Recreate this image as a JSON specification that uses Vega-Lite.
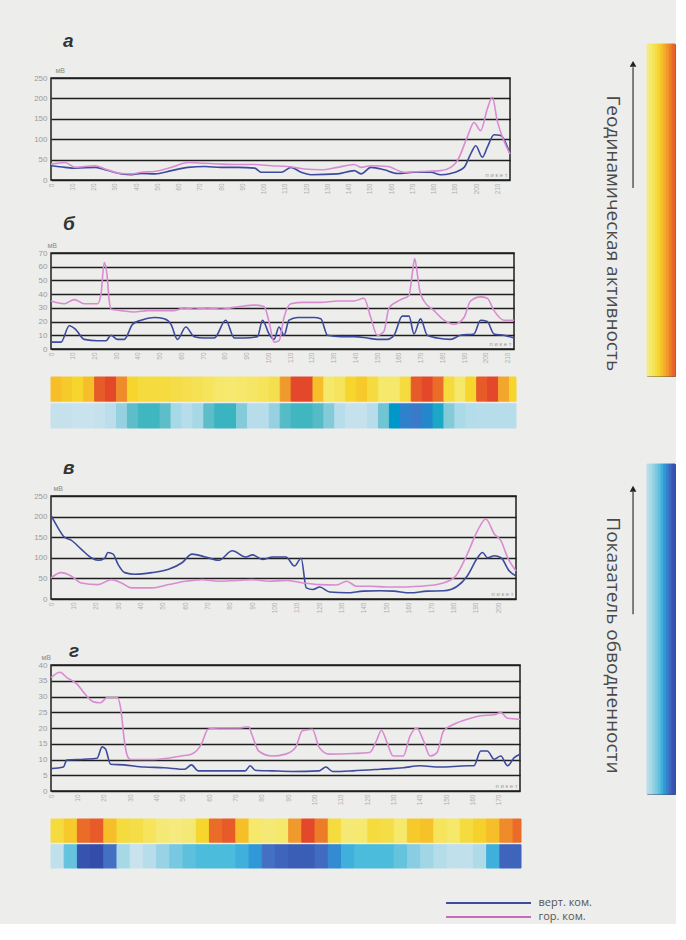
{
"$schema": "https://vega.github.io/schema/vega-lite/v6.json",
"background": "#ededeb",
"padding": {"left": 32, "top": 31, "right": 0, "bottom": 0},
"datasets": {
"a": [
{"pk":0,"mv":35,"s":"верт. ком."},{"pk":6.6,"mv":31,"s":"верт. ком."},{"pk":11.3,"mv":29,"s":"верт. ком."},{"pk":20.7,"mv":31,"s":"верт. ком."},{"pk":25.4,"mv":25,"s":"верт. ком."},{"pk":33.2,"mv":15,"s":"верт. ком."},{"pk":37.9,"mv":13,"s":"верт. ком."},{"pk":42.6,"mv":16,"s":"верт. ком."},{"pk":48.8,"mv":15,"s":"верт. ком."},{"pk":56.7,"mv":23,"s":"верт. ком."},{"pk":64.5,"mv":31,"s":"верт. ком."},{"pk":72.3,"mv":33,"s":"верт. ком."},{"pk":80.1,"mv":31,"s":"верт. ком."},{"pk":88,"mv":31,"s":"верт. ком."},{"pk":95.8,"mv":29,"s":"верт. ком."},{"pk":98.9,"mv":19,"s":"верт. ком."},{"pk":108.3,"mv":19,"s":"верт. ком."},{"pk":113,"mv":31,"s":"верт. ком."},{"pk":117.7,"mv":19,"s":"верт. ком."},{"pk":122.4,"mv":13,"s":"верт. ком."},{"pk":134.9,"mv":15,"s":"верт. ком."},{"pk":142.7,"mv":23,"s":"верт. ком."},{"pk":145.9,"mv":15,"s":"верт. ком."},{"pk":150.6,"mv":31,"s":"верт. ком."},{"pk":156.8,"mv":25,"s":"верт. ком."},{"pk":163.1,"mv":16,"s":"верт. ком."},{"pk":170.9,"mv":19,"s":"верт. ком."},{"pk":178.7,"mv":19,"s":"верт. ком."},{"pk":183.4,"mv":13,"s":"верт. ком."},{"pk":188.1,"mv":16,"s":"верт. ком."},{"pk":194.4,"mv":31,"s":"верт. ком."},{"pk":197.5,"mv":64,"s":"верт. ком."},{"pk":199.9,"mv":84,"s":"верт. ком."},{"pk":203,"mv":56,"s":"верт. ком."},{"pk":205.3,"mv":80,"s":"верт. ком."},{"pk":208.5,"mv":111,"s":"верт. ком."},{"pk":211.6,"mv":109,"s":"верт. ком."},{"pk":216,"mv":64,"s":"верт. ком."},
{"pk":0,"mv":39,"s":"гор. ком."},{"pk":6.6,"mv":43,"s":"гор. ком."},{"pk":11.3,"mv":31,"s":"гор. ком."},{"pk":20.7,"mv":35,"s":"гор. ком."},{"pk":25.4,"mv":27,"s":"гор. ком."},{"pk":33.2,"mv":16,"s":"гор. ком."},{"pk":37.9,"mv":15,"s":"гор. ком."},{"pk":42.6,"mv":19,"s":"гор. ком."},{"pk":48.8,"mv":21,"s":"гор. ком."},{"pk":56.7,"mv":31,"s":"гор. ком."},{"pk":64.5,"mv":43,"s":"гор. ком."},{"pk":72.3,"mv":41,"s":"гор. ком."},{"pk":80.1,"mv":39,"s":"гор. ком."},{"pk":88,"mv":38,"s":"гор. ком."},{"pk":95.8,"mv":38,"s":"гор. ком."},{"pk":103.6,"mv":35,"s":"гор. ком."},{"pk":111.5,"mv":33,"s":"гор. ком."},{"pk":119.3,"mv":27,"s":"гор. ком."},{"pk":127.1,"mv":25,"s":"гор. ком."},{"pk":134.9,"mv":31,"s":"гор. ком."},{"pk":142.7,"mv":38,"s":"гор. ком."},{"pk":145.9,"mv":31,"s":"гор. ком."},{"pk":150.6,"mv":35,"s":"гор. ком."},{"pk":158.4,"mv":33,"s":"гор. ком."},{"pk":166.2,"mv":19,"s":"гор. ком."},{"pk":174,"mv":21,"s":"гор. ком."},{"pk":183.4,"mv":23,"s":"гор. ком."},{"pk":188.1,"mv":31,"s":"гор. ком."},{"pk":191.2,"mv":47,"s":"гор. ком."},{"pk":195.9,"mv":105,"s":"гор. ком."},{"pk":199.1,"mv":141,"s":"гор. ком."},{"pk":202.2,"mv":121,"s":"гор. ком."},{"pk":205.3,"mv":174,"s":"гор. ком."},{"pk":207.7,"mv":203,"s":"гор. ком."},{"pk":210,"mv":145,"s":"гор. ком."},{"pk":213.1,"mv":96,"s":"гор. ком."},{"pk":216,"mv":64,"s":"гор. ком."}
],
"b": [
{"pk":0,"mv":5,"s":"верт. ком."},{"pk":4.6,"mv":5,"s":"верт. ком."},{"pk":8.4,"mv":17,"s":"верт. ком."},{"pk":11.5,"mv":14,"s":"верт. ком."},{"pk":15.3,"mv":7,"s":"верт. ком."},{"pk":21.4,"mv":6,"s":"верт. ком."},{"pk":25.3,"mv":6,"s":"верт. ком."},{"pk":27.6,"mv":10,"s":"верт. ком."},{"pk":30.6,"mv":7,"s":"верт. ком."},{"pk":33.7,"mv":7,"s":"верт. ком."},{"pk":37.5,"mv":18,"s":"верт. ком."},{"pk":41.4,"mv":21,"s":"верт. ком."},{"pk":47.5,"mv":23,"s":"верт. ком."},{"pk":52.1,"mv":22,"s":"верт. ком."},{"pk":55.2,"mv":18,"s":"верт. ком."},{"pk":58.2,"mv":7,"s":"верт. ком."},{"pk":62,"mv":16,"s":"верт. ком."},{"pk":65.9,"mv":9,"s":"верт. ком."},{"pk":70.5,"mv":8,"s":"верт. ком."},{"pk":75.1,"mv":8,"s":"верт. ком."},{"pk":80.4,"mv":21,"s":"верт. ком."},{"pk":84.3,"mv":8,"s":"верт. ком."},{"pk":88.9,"mv":8,"s":"верт. ком."},{"pk":95,"mv":9,"s":"верт. ком."},{"pk":97.3,"mv":21,"s":"верт. ком."},{"pk":100.3,"mv":11,"s":"верт. ком."},{"pk":102.6,"mv":7,"s":"верт. ком."},{"pk":104.9,"mv":16,"s":"верт. ком."},{"pk":107.2,"mv":10,"s":"верт. ком."},{"pk":109.5,"mv":21,"s":"верт. ком."},{"pk":113.4,"mv":23,"s":"верт. ком."},{"pk":121,"mv":23,"s":"верт. ком."},{"pk":124.1,"mv":22,"s":"верт. ком."},{"pk":127.2,"mv":10,"s":"верт. ком."},{"pk":133.3,"mv":9,"s":"верт. ком."},{"pk":139.4,"mv":9,"s":"верт. ком."},{"pk":145.5,"mv":8,"s":"верт. ком."},{"pk":150.1,"mv":7,"s":"верт. ком."},{"pk":154.7,"mv":7,"s":"верт. ком."},{"pk":157.8,"mv":10,"s":"верт. ком."},{"pk":161.6,"mv":24,"s":"верт. ком."},{"pk":164.7,"mv":24,"s":"верт. ком."},{"pk":167,"mv":11,"s":"верт. ком."},{"pk":170,"mv":22,"s":"верт. ком."},{"pk":173.1,"mv":10,"s":"верт. ком."},{"pk":177.7,"mv":8,"s":"верт. ком."},{"pk":183.8,"mv":7,"s":"верт. ком."},{"pk":188.4,"mv":10,"s":"верт. ком."},{"pk":194.6,"mv":11,"s":"верт. ком."},{"pk":197.6,"mv":21,"s":"верт. ком."},{"pk":200.7,"mv":20,"s":"верт. ком."},{"pk":203.8,"mv":11,"s":"верт. ком."},{"pk":208.4,"mv":10,"s":"верт. ком."},{"pk":213,"mv":8,"s":"верт. ком."},
{"pk":0,"mv":35,"s":"гор. ком."},{"pk":6.1,"mv":33,"s":"гор. ком."},{"pk":10.7,"mv":36,"s":"гор. ком."},{"pk":15.3,"mv":33,"s":"гор. ком."},{"pk":21.4,"mv":33,"s":"гор. ком."},{"pk":23,"mv":40,"s":"гор. ком."},{"pk":24.5,"mv":63,"s":"гор. ком."},{"pk":25.7,"mv":55,"s":"гор. ком."},{"pk":26.8,"mv":35,"s":"гор. ком."},{"pk":27.6,"mv":29,"s":"гор. ком."},{"pk":32.2,"mv":28,"s":"гор. ком."},{"pk":38.3,"mv":27,"s":"гор. ком."},{"pk":44.4,"mv":28,"s":"гор. ком."},{"pk":50.6,"mv":28,"s":"гор. ком."},{"pk":56.7,"mv":28,"s":"гор. ком."},{"pk":61.3,"mv":30,"s":"гор. ком."},{"pk":65.9,"mv":29,"s":"гор. ком."},{"pk":72,"mv":30,"s":"гор. ком."},{"pk":78.1,"mv":29,"s":"гор. ком."},{"pk":82.7,"mv":30,"s":"гор. ком."},{"pk":87.3,"mv":31,"s":"гор. ком."},{"pk":93.5,"mv":32,"s":"гор. ком."},{"pk":98,"mv":31,"s":"гор. ком."},{"pk":100.3,"mv":20,"s":"гор. ком."},{"pk":102.6,"mv":5,"s":"гор. ком."},{"pk":104.9,"mv":6,"s":"гор. ком."},{"pk":107.2,"mv":23,"s":"гор. ком."},{"pk":110.3,"mv":33,"s":"гор. ком."},{"pk":116.4,"mv":34,"s":"гор. ком."},{"pk":124.1,"mv":34,"s":"гор. ком."},{"pk":131.8,"mv":35,"s":"гор. ком."},{"pk":139.4,"mv":35,"s":"гор. ком."},{"pk":144,"mv":37,"s":"гор. ком."},{"pk":147.1,"mv":23,"s":"гор. ком."},{"pk":150.1,"mv":10,"s":"гор. ком."},{"pk":153.2,"mv":13,"s":"гор. ком."},{"pk":155.5,"mv":30,"s":"гор. ком."},{"pk":160.9,"mv":36,"s":"гор. ком."},{"pk":164.7,"mv":39,"s":"гор. ком."},{"pk":166.2,"mv":55,"s":"гор. ком."},{"pk":167.3,"mv":66,"s":"гор. ком."},{"pk":168.5,"mv":55,"s":"гор. ком."},{"pk":169.7,"mv":42,"s":"гор. ком."},{"pk":171.6,"mv":35,"s":"гор. ком."},{"pk":176.2,"mv":28,"s":"гор. ком."},{"pk":180.8,"mv":21,"s":"гор. ком."},{"pk":185.4,"mv":18,"s":"гор. ком."},{"pk":190,"mv":23,"s":"гор. ком."},{"pk":193,"mv":35,"s":"гор. ком."},{"pk":197.6,"mv":38,"s":"гор. ком."},{"pk":200.7,"mv":37,"s":"гор. ком."},{"pk":203.8,"mv":28,"s":"гор. ком."},{"pk":208.4,"mv":21,"s":"гор. ком."},{"pk":213,"mv":21,"s":"гор. ком."}
],
"c": [
{"pk":0,"mv":203,"s":"верт. ком."},{"pk":3,"mv":174,"s":"верт. ком."},{"pk":6,"mv":150,"s":"верт. ком."},{"pk":9,"mv":143,"s":"верт. ком."},{"pk":13.5,"mv":121,"s":"верт. ком."},{"pk":18,"mv":100,"s":"верт. ком."},{"pk":21,"mv":94,"s":"верт. ком."},{"pk":24,"mv":99,"s":"верт. ком."},{"pk":25.5,"mv":113,"s":"верт. ком."},{"pk":27.8,"mv":109,"s":"верт. ком."},{"pk":30,"mv":84,"s":"верт. ком."},{"pk":33,"mv":64,"s":"верт. ком."},{"pk":37.6,"mv":60,"s":"верт. ком."},{"pk":45.1,"mv":64,"s":"верт. ком."},{"pk":52.6,"mv":72,"s":"верт. ком."},{"pk":58.6,"mv":88,"s":"верт. ком."},{"pk":63.1,"mv":109,"s":"верт. ком."},{"pk":69.1,"mv":102,"s":"верт. ком."},{"pk":75.1,"mv":94,"s":"верт. ком."},{"pk":81.1,"mv":117,"s":"верт. ком."},{"pk":87.1,"mv":102,"s":"верт. ком."},{"pk":90.1,"mv":107,"s":"верт. ком."},{"pk":94.6,"mv":96,"s":"верт. ком."},{"pk":99.1,"mv":102,"s":"верт. ком."},{"pk":105.1,"mv":102,"s":"верт. ком."},{"pk":108.9,"mv":80,"s":"верт. ком."},{"pk":111.9,"mv":99,"s":"верт. ком."},{"pk":114.2,"mv":27,"s":"верт. ком."},{"pk":117.2,"mv":23,"s":"верт. ком."},{"pk":120.2,"mv":29,"s":"верт. ком."},{"pk":124.7,"mv":17,"s":"верт. ком."},{"pk":132.2,"mv":15,"s":"верт. ком."},{"pk":139.7,"mv":19,"s":"верт. ком."},{"pk":147.2,"mv":20,"s":"верт. ком."},{"pk":153.2,"mv":19,"s":"верт. ком."},{"pk":160.7,"mv":15,"s":"верт. ком."},{"pk":168.2,"mv":19,"s":"верт. ком."},{"pk":175.7,"mv":20,"s":"верт. ком."},{"pk":181.7,"mv":31,"s":"верт. ком."},{"pk":186.2,"mv":56,"s":"верт. ком."},{"pk":190.8,"mv":100,"s":"верт. ком."},{"pk":193,"mv":113,"s":"верт. ком."},{"pk":195.3,"mv":100,"s":"верт. ком."},{"pk":198.3,"mv":105,"s":"верт. ком."},{"pk":201.3,"mv":100,"s":"верт. ком."},{"pk":205,"mv":68,"s":"верт. ком."},{"pk":208,"mv":56,"s":"верт. ком."},
{"pk":0,"mv":51,"s":"гор. ком."},{"pk":4.5,"mv":64,"s":"гор. ком."},{"pk":9,"mv":56,"s":"гор. ком."},{"pk":13.5,"mv":39,"s":"гор. ком."},{"pk":21,"mv":35,"s":"гор. ком."},{"pk":27,"mv":47,"s":"гор. ком."},{"pk":31.5,"mv":39,"s":"гор. ком."},{"pk":36,"mv":27,"s":"гор. ком."},{"pk":45.1,"mv":27,"s":"гор. ком."},{"pk":52.6,"mv":35,"s":"гор. ком."},{"pk":60.1,"mv":43,"s":"гор. ком."},{"pk":67.6,"mv":47,"s":"гор. ком."},{"pk":75.1,"mv":43,"s":"гор. ком."},{"pk":82.6,"mv":45,"s":"гор. ком."},{"pk":90.1,"mv":47,"s":"гор. ком."},{"pk":97.6,"mv":43,"s":"гор. ком."},{"pk":105.1,"mv":45,"s":"гор. ком."},{"pk":112.7,"mv":39,"s":"гор. ком."},{"pk":120.2,"mv":35,"s":"гор. ком."},{"pk":127.7,"mv":34,"s":"гор. ком."},{"pk":132.2,"mv":43,"s":"гор. ком."},{"pk":136.7,"mv":31,"s":"гор. ком."},{"pk":142.7,"mv":31,"s":"гор. ком."},{"pk":150.2,"mv":29,"s":"гор. ком."},{"pk":157.7,"mv":29,"s":"гор. ком."},{"pk":165.2,"mv":31,"s":"гор. ком."},{"pk":172.7,"mv":35,"s":"гор. ком."},{"pk":180.2,"mv":51,"s":"гор. ком."},{"pk":186.2,"mv":109,"s":"гор. ком."},{"pk":190.8,"mv":166,"s":"гор. ком."},{"pk":194.5,"mv":194,"s":"гор. ком."},{"pk":198.3,"mv":158,"s":"гор. ком."},{"pk":201.3,"mv":141,"s":"гор. ком."},{"pk":204.3,"mv":100,"s":"гор. ком."},{"pk":208,"mv":68,"s":"гор. ком."}
],
"d": [
{"pk":0,"mv":7.1,"s":"верт. ком."},{"pk":4.7,"mv":7.6,"s":"верт. ком."},{"pk":6,"mv":9.8,"s":"верт. ком."},{"pk":12.4,"mv":10.1,"s":"верт. ком."},{"pk":17.5,"mv":10.4,"s":"верт. ком."},{"pk":19.4,"mv":14,"s":"верт. ком."},{"pk":20.7,"mv":13.3,"s":"верт. ком."},{"pk":22.6,"mv":8.5,"s":"верт. ком."},{"pk":27.7,"mv":8.3,"s":"верт. ком."},{"pk":35.4,"mv":7.6,"s":"верт. ком."},{"pk":43,"mv":7.4,"s":"верт. ком."},{"pk":50.7,"mv":6.9,"s":"верт. ком."},{"pk":53.3,"mv":8.3,"s":"верт. ком."},{"pk":55.8,"mv":6.4,"s":"верт. ком."},{"pk":63.5,"mv":6.4,"s":"верт. ком."},{"pk":73.7,"mv":6.4,"s":"верт. ком."},{"pk":75.6,"mv":8,"s":"верт. ком."},{"pk":77.5,"mv":6.6,"s":"верт. ком."},{"pk":83.9,"mv":6.4,"s":"верт. ком."},{"pk":91.6,"mv":6.2,"s":"верт. ком."},{"pk":101.8,"mv":6.4,"s":"верт. ком."},{"pk":104.3,"mv":7.6,"s":"верт. ком."},{"pk":106.9,"mv":6.2,"s":"верт. ком."},{"pk":114.5,"mv":6.4,"s":"верт. ком."},{"pk":124.8,"mv":6.9,"s":"верт. ком."},{"pk":133.7,"mv":7.4,"s":"верт. ком."},{"pk":140.1,"mv":8,"s":"верт. ком."},{"pk":147.7,"mv":7.6,"s":"верт. ком."},{"pk":158,"mv":8,"s":"верт. ком."},{"pk":160.5,"mv":8,"s":"верт. ком."},{"pk":163.1,"mv":12.7,"s":"верт. ком."},{"pk":165.6,"mv":12.7,"s":"верт. ком."},{"pk":168.2,"mv":10.1,"s":"верт. ком."},{"pk":170.7,"mv":11.1,"s":"верт. ком."},{"pk":173.3,"mv":8,"s":"верт. ком."},{"pk":175.8,"mv":10.6,"s":"верт. ком."},{"pk":178,"mv":11.7,"s":"верт. ком."},
{"pk":0,"mv":36,"s":"гор. ком."},{"pk":3.4,"mv":37.7,"s":"гор. ком."},{"pk":6,"mv":36,"s":"гор. ком."},{"pk":9.8,"mv":34,"s":"гор. ком."},{"pk":12.4,"mv":31.3,"s":"гор. ком."},{"pk":16.2,"mv":28.3,"s":"гор. ком."},{"pk":18.8,"mv":28,"s":"гор. ком."},{"pk":21.3,"mv":29.7,"s":"гор. ком."},{"pk":25.2,"mv":29.7,"s":"гор. ком."},{"pk":26.4,"mv":26.5,"s":"гор. ком."},{"pk":28,"mv":15,"s":"гор. ком."},{"pk":29,"mv":11.1,"s":"гор. ком."},{"pk":30.3,"mv":10,"s":"гор. ком."},{"pk":37.9,"mv":10,"s":"гор. ком."},{"pk":44.3,"mv":10.4,"s":"гор. ком."},{"pk":49.4,"mv":11.1,"s":"гор. ком."},{"pk":53.3,"mv":11.7,"s":"гор. ком."},{"pk":57.1,"mv":14.9,"s":"гор. ком."},{"pk":59.6,"mv":19.6,"s":"гор. ком."},{"pk":63.5,"mv":20,"s":"гор. ком."},{"pk":71.1,"mv":20,"s":"гор. ком."},{"pk":75,"mv":20.4,"s":"гор. ком."},{"pk":76.2,"mv":18,"s":"гор. ком."},{"pk":78.8,"mv":12.7,"s":"гор. ком."},{"pk":83.9,"mv":11.1,"s":"гор. ком."},{"pk":89,"mv":11.7,"s":"гор. ком."},{"pk":92.8,"mv":13.8,"s":"гор. ком."},{"pk":95.4,"mv":19.1,"s":"гор. ком."},{"pk":99.2,"mv":19.6,"s":"гор. ком."},{"pk":101.8,"mv":13.8,"s":"гор. ком."},{"pk":105.6,"mv":11.7,"s":"гор. ком."},{"pk":114.5,"mv":11.9,"s":"гор. ком."},{"pk":120.9,"mv":12.2,"s":"гор. ком."},{"pk":123.5,"mv":15.9,"s":"гор. ком."},{"pk":125.4,"mv":19.3,"s":"гор. ком."},{"pk":127.3,"mv":15.9,"s":"гор. ком."},{"pk":129.9,"mv":11.1,"s":"гор. ком."},{"pk":133.7,"mv":11.1,"s":"гор. ком."},{"pk":136.3,"mv":17.5,"s":"гор. ком."},{"pk":138.8,"mv":20,"s":"гор. ком."},{"pk":141.4,"mv":15.9,"s":"гор. ком."},{"pk":143.9,"mv":11.1,"s":"гор. ком."},{"pk":146.5,"mv":12.2,"s":"гор. ком."},{"pk":149,"mv":19.1,"s":"гор. ком."},{"pk":152.9,"mv":21.2,"s":"гор. ком."},{"pk":158,"mv":22.8,"s":"гор. ком."},{"pk":163.1,"mv":23.9,"s":"гор. ком."},{"pk":168.2,"mv":24.2,"s":"гор. ком."},{"pk":170.7,"mv":24.9,"s":"гор. ком."},{"pk":173.3,"mv":23.1,"s":"гор. ком."},{"pk":178,"mv":22.8,"s":"гор. ком."}
],
"bbars": [
{"layer":"geo","x0":0,"x1":5,"v":0.6},{"layer":"geo","x0":5,"x1":10,"v":0.55},{"layer":"geo","x0":10,"x1":15,"v":0.5},{"layer":"geo","x0":15,"x1":20,"v":0.6},{"layer":"geo","x0":20,"x1":25,"v":0.95},{"layer":"geo","x0":25,"x1":30,"v":1.0},{"layer":"geo","x0":30,"x1":35,"v":0.8},{"layer":"geo","x0":35,"x1":40,"v":0.5},{"layer":"geo","x0":40,"x1":45,"v":0.45},{"layer":"geo","x0":45,"x1":50,"v":0.45},{"layer":"geo","x0":50,"x1":55,"v":0.45},{"layer":"geo","x0":55,"x1":60,"v":0.42},{"layer":"geo","x0":60,"x1":65,"v":0.4},{"layer":"geo","x0":65,"x1":70,"v":0.38},{"layer":"geo","x0":70,"x1":75,"v":0.35},{"layer":"geo","x0":75,"x1":80,"v":0.3},{"layer":"geo","x0":80,"x1":85,"v":0.28},{"layer":"geo","x0":85,"x1":90,"v":0.3},{"layer":"geo","x0":90,"x1":95,"v":0.32},{"layer":"geo","x0":95,"x1":100,"v":0.35},{"layer":"geo","x0":100,"x1":105,"v":0.4},{"layer":"geo","x0":105,"x1":110,"v":0.75},{"layer":"geo","x0":110,"x1":115,"v":1.0},{"layer":"geo","x0":115,"x1":120,"v":1.0},{"layer":"geo","x0":120,"x1":125,"v":0.6},{"layer":"geo","x0":125,"x1":130,"v":0.3},{"layer":"geo","x0":130,"x1":135,"v":0.35},{"layer":"geo","x0":135,"x1":140,"v":0.5},{"layer":"geo","x0":140,"x1":145,"v":0.55},{"layer":"geo","x0":145,"x1":150,"v":0.45},{"layer":"geo","x0":150,"x1":155,"v":0.3},{"layer":"geo","x0":155,"x1":160,"v":0.3},{"layer":"geo","x0":160,"x1":165,"v":0.45},{"layer":"geo","x0":165,"x1":170,"v":0.95},{"layer":"geo","x0":170,"x1":175,"v":1.0},{"layer":"geo","x0":175,"x1":180,"v":0.9},{"layer":"geo","x0":180,"x1":185,"v":0.45},{"layer":"geo","x0":185,"x1":190,"v":0.3},{"layer":"geo","x0":190,"x1":195,"v":0.5},{"layer":"geo","x0":195,"x1":200,"v":0.95},{"layer":"geo","x0":200,"x1":205,"v":1.0},{"layer":"geo","x0":205,"x1":210,"v":0.7},{"layer":"geo","x0":210,"x1":213,"v":0.5},
{"layer":"water","x0":0,"x1":5,"v":0.12},{"layer":"water","x0":5,"x1":10,"v":0.12},{"layer":"water","x0":10,"x1":15,"v":0.1},{"layer":"water","x0":15,"x1":20,"v":0.1},{"layer":"water","x0":20,"x1":25,"v":0.12},{"layer":"water","x0":25,"x1":30,"v":0.18},{"layer":"water","x0":30,"x1":35,"v":0.35},{"layer":"water","x0":35,"x1":40,"v":0.5},{"layer":"water","x0":40,"x1":45,"v":0.56},{"layer":"water","x0":45,"x1":50,"v":0.56},{"layer":"water","x0":50,"x1":55,"v":0.5},{"layer":"water","x0":55,"x1":60,"v":0.3},{"layer":"water","x0":60,"x1":65,"v":0.2},{"layer":"water","x0":65,"x1":70,"v":0.3},{"layer":"water","x0":70,"x1":75,"v":0.5},{"layer":"water","x0":75,"x1":80,"v":0.57},{"layer":"water","x0":80,"x1":85,"v":0.57},{"layer":"water","x0":85,"x1":90,"v":0.4},{"layer":"water","x0":90,"x1":95,"v":0.2},{"layer":"water","x0":95,"x1":100,"v":0.2},{"layer":"water","x0":100,"x1":105,"v":0.35},{"layer":"water","x0":105,"x1":110,"v":0.52},{"layer":"water","x0":110,"x1":115,"v":0.56},{"layer":"water","x0":115,"x1":120,"v":0.56},{"layer":"water","x0":120,"x1":125,"v":0.52},{"layer":"water","x0":125,"x1":130,"v":0.4},{"layer":"water","x0":130,"x1":135,"v":0.2},{"layer":"water","x0":135,"x1":140,"v":0.12},{"layer":"water","x0":140,"x1":145,"v":0.12},{"layer":"water","x0":145,"x1":150,"v":0.2},{"layer":"water","x0":150,"x1":155,"v":0.45},{"layer":"water","x0":155,"x1":160,"v":0.68},{"layer":"water","x0":160,"x1":165,"v":0.76},{"layer":"water","x0":165,"x1":170,"v":0.78},{"layer":"water","x0":170,"x1":175,"v":0.74},{"layer":"water","x0":175,"x1":180,"v":0.62},{"layer":"water","x0":180,"x1":185,"v":0.4},{"layer":"water","x0":185,"x1":190,"v":0.28},{"layer":"water","x0":190,"x1":195,"v":0.22},{"layer":"water","x0":195,"x1":200,"v":0.2},{"layer":"water","x0":200,"x1":205,"v":0.2},{"layer":"water","x0":205,"x1":210,"v":0.2},{"layer":"water","x0":210,"x1":213,"v":0.2}
],
"dbars": [
{"layer":"geo","x0":0,"x1":5,"v":0.45},{"layer":"geo","x0":5,"x1":10,"v":0.55},{"layer":"geo","x0":10,"x1":15,"v":0.9},{"layer":"geo","x0":15,"x1":20,"v":0.95},{"layer":"geo","x0":20,"x1":25,"v":0.6},{"layer":"geo","x0":25,"x1":30,"v":0.45},{"layer":"geo","x0":30,"x1":35,"v":0.42},{"layer":"geo","x0":35,"x1":40,"v":0.35},{"layer":"geo","x0":40,"x1":45,"v":0.25},{"layer":"geo","x0":45,"x1":50,"v":0.22},{"layer":"geo","x0":50,"x1":55,"v":0.25},{"layer":"geo","x0":55,"x1":60,"v":0.5},{"layer":"geo","x0":60,"x1":65,"v":0.9},{"layer":"geo","x0":65,"x1":70,"v":0.95},{"layer":"geo","x0":70,"x1":75,"v":0.6},{"layer":"geo","x0":75,"x1":80,"v":0.3},{"layer":"geo","x0":80,"x1":85,"v":0.25},{"layer":"geo","x0":85,"x1":90,"v":0.3},{"layer":"geo","x0":90,"x1":95,"v":0.75},{"layer":"geo","x0":95,"x1":100,"v":1.0},{"layer":"geo","x0":100,"x1":105,"v":0.85},{"layer":"geo","x0":105,"x1":110,"v":0.45},{"layer":"geo","x0":110,"x1":115,"v":0.25},{"layer":"geo","x0":115,"x1":120,"v":0.28},{"layer":"geo","x0":120,"x1":125,"v":0.45},{"layer":"geo","x0":125,"x1":130,"v":0.42},{"layer":"geo","x0":130,"x1":135,"v":0.3},{"layer":"geo","x0":135,"x1":140,"v":0.55},{"layer":"geo","x0":140,"x1":145,"v":0.58},{"layer":"geo","x0":145,"x1":150,"v":0.35},{"layer":"geo","x0":150,"x1":155,"v":0.3},{"layer":"geo","x0":155,"x1":160,"v":0.45},{"layer":"geo","x0":160,"x1":165,"v":0.52},{"layer":"geo","x0":165,"x1":170,"v":0.6},{"layer":"geo","x0":170,"x1":175,"v":0.8},{"layer":"geo","x0":175,"x1":178,"v":0.9},
{"layer":"water","x0":0,"x1":5,"v":0.15},{"layer":"water","x0":5,"x1":10,"v":0.5},{"layer":"water","x0":10,"x1":15,"v":0.92},{"layer":"water","x0":15,"x1":20,"v":0.95},{"layer":"water","x0":20,"x1":25,"v":0.8},{"layer":"water","x0":25,"x1":30,"v":0.3},{"layer":"water","x0":30,"x1":35,"v":0.1},{"layer":"water","x0":35,"x1":40,"v":0.2},{"layer":"water","x0":40,"x1":45,"v":0.35},{"layer":"water","x0":45,"x1":50,"v":0.45},{"layer":"water","x0":50,"x1":55,"v":0.52},{"layer":"water","x0":55,"x1":60,"v":0.56},{"layer":"water","x0":60,"x1":65,"v":0.56},{"layer":"water","x0":65,"x1":70,"v":0.56},{"layer":"water","x0":70,"x1":75,"v":0.6},{"layer":"water","x0":75,"x1":80,"v":0.68},{"layer":"water","x0":80,"x1":85,"v":0.8},{"layer":"water","x0":85,"x1":90,"v":0.85},{"layer":"water","x0":90,"x1":95,"v":0.88},{"layer":"water","x0":95,"x1":100,"v":0.88},{"layer":"water","x0":100,"x1":105,"v":0.82},{"layer":"water","x0":105,"x1":110,"v":0.72},{"layer":"water","x0":110,"x1":115,"v":0.6},{"layer":"water","x0":115,"x1":120,"v":0.56},{"layer":"water","x0":120,"x1":125,"v":0.56},{"layer":"water","x0":125,"x1":130,"v":0.56},{"layer":"water","x0":130,"x1":135,"v":0.5},{"layer":"water","x0":135,"x1":140,"v":0.4},{"layer":"water","x0":140,"x1":145,"v":0.32},{"layer":"water","x0":145,"x1":150,"v":0.22},{"layer":"water","x0":150,"x1":155,"v":0.15},{"layer":"water","x0":155,"x1":160,"v":0.15},{"layer":"water","x0":160,"x1":165,"v":0.25},{"layer":"water","x0":165,"x1":170,"v":0.6},{"layer":"water","x0":170,"x1":175,"v":0.85},{"layer":"water","x0":175,"x1":178,"v":0.85}
],
"gradcells": [
{"v":0.2,"v2":0.28},{"v":0.28,"v2":0.36},{"v":0.36,"v2":0.44},{"v":0.44,"v2":0.52},{"v":0.52,"v2":0.6},{"v":0.6,"v2":0.68},{"v":0.68,"v2":0.76},{"v":0.76,"v2":0.84},{"v":0.84,"v2":0.92},{"v":0.92,"v2":1.0}
],
"legend": [{"s":"верт. ком."},{"s":"гор. ком."}]
},
"bounds": "full",
"spacing": 0,
"resolve": {"scale": {"color": "independent", "fill": "independent", "stroke": "independent"}},
"hconcat": [
{
"bounds": "flush",
"spacing": 28,
"resolve": {"scale": {"color": "independent", "fill": "independent", "stroke": "independent"}},
"vconcat": [
{"width": 10, "height": 6, "view": {"stroke": null}, "data": {"values": [{}]}, "mark": {"type": "rect", "opacity": 0}, "encoding": {}},
{
"width": 459, "height": 102,
"title": {"text": "а", "dx": 12, "offset": 15},
"data": {"name": "a"},
"mark": {"type": "line", "interpolate": "monotone", "strokeWidth": 1.6},
"encoding": {
"x": {"field": "pk", "type": "quantitative", "scale": {"domain": [0, 216], "nice": false, "zero": false}, "axis": {"values": [0,10,20,30,40,50,60,70,80,90,100,110,120,130,140,150,160,170,180,190,200,210], "title": "п и к е т", "titleX": 456}},
"y": {"field": "mv", "type": "quantitative", "scale": {"domain": [0, 250], "nice": false}, "axis": {"values": [0,50,100,150,200,250], "title": "мВ", "titleX": 4}},
"color": {"field": "s", "type": "nominal", "scale": {"domain": ["верт. ком.", "гор. ком."], "range": ["#3d4a9e", "#d98bd2"]}, "legend": null}
}
},
{"width": 10, "height": 17, "view": {"stroke": null}, "data": {"values": [{}]}, "mark": {"type": "rect", "opacity": 0}, "encoding": {}},
{
"width": 463, "height": 96,
"title": {"text": "б", "dx": 12, "offset": 7},
"data": {"name": "b"},
"mark": {"type": "line", "interpolate": "monotone", "strokeWidth": 1.6},
"encoding": {
"x": {"field": "pk", "type": "quantitative", "scale": {"domain": [0, 213], "nice": false, "zero": false}, "axis": {"values": [0,10,20,30,40,50,60,70,80,90,100,110,120,130,140,150,160,170,180,190,200,210], "title": "п и к е т", "titleX": 460}},
"y": {"field": "mv", "type": "quantitative", "scale": {"domain": [0, 70], "nice": false}, "axis": {"values": [0,10,20,30,40,50,60,70], "title": "мВ", "titleX": -4}},
"color": {"field": "s", "type": "nominal", "scale": {"domain": ["верт. ком.", "гор. ком."], "range": ["#3d4a9e", "#d98bd2"]}, "legend": null}
}
},
{
"width": 465, "height": 51,
"view": {"stroke": null},
"data": {"name": "bbars"},
"encoding": {
"x": {"field": "x0", "type": "quantitative", "scale": {"domain": [0, 213], "nice": false, "zero": false}, "axis": null},
"x2": {"field": "x1"},
"y": {"field": "layer", "type": "nominal", "scale": {"domain": ["geo", "water"], "paddingInner": 0.1, "paddingOuter": 0}, "axis": null}
},
"layer": [
{"transform": [{"filter": "datum.layer === 'geo'"}], "mark": {"type": "rect", "strokeWidth": 1},
 "encoding": {
 "fill": {"field": "v", "type": "quantitative", "scale": {"domain": [0, 0.3, 0.5, 0.75, 1], "range": ["#f4f0b0", "#f5e86a", "#f6d62c", "#f09a2e", "#e3482b"]}, "legend": null},
 "stroke": {"field": "v", "type": "quantitative", "scale": {"domain": [0, 0.3, 0.5, 0.75, 1], "range": ["#f4f0b0", "#f5e86a", "#f6d62c", "#f09a2e", "#e3482b"]}, "legend": null}}},
{"transform": [{"filter": "datum.layer === 'water'"}], "mark": {"type": "rect", "strokeWidth": 1},
 "encoding": {
 "fill": {"field": "v", "type": "quantitative", "scale": {"domain": [0, 0.3, 0.56, 0.8, 1], "range": ["#d8e8ef", "#a6d8e6", "#40b6c0", "#4474c6", "#3040a0"]}, "legend": null},
 "stroke": {"field": "v", "type": "quantitative", "scale": {"domain": [0, 0.3, 0.56, 0.8, 1], "range": ["#d8e8ef", "#a6d8e6", "#40b6c0", "#4474c6", "#3040a0"]}, "legend": null}}}
],
"resolve": {"scale": {"fill": "independent", "stroke": "independent"}}
},
{"width": 10, "height": 12, "view": {"stroke": null}, "data": {"values": [{}]}, "mark": {"type": "rect", "opacity": 0}, "encoding": {}},
{
"width": 465, "height": 103,
"title": {"text": "в", "dx": 12, "offset": 6},
"data": {"name": "c"},
"mark": {"type": "line", "interpolate": "monotone", "strokeWidth": 1.6},
"encoding": {
"x": {"field": "pk", "type": "quantitative", "scale": {"domain": [0, 208], "nice": false, "zero": false}, "axis": {"values": [0,10,20,30,40,50,60,70,80,90,100,110,120,130,140,150,160,170,180,190,200], "title": "п и к е т", "titleX": 462}},
"y": {"field": "mv", "type": "quantitative", "scale": {"domain": [0, 250], "nice": false}, "axis": {"values": [0,50,100,150,200,250], "title": "мВ", "titleX": 2}},
"color": {"field": "s", "type": "nominal", "scale": {"domain": ["верт. ком.", "гор. ком."], "range": ["#3d4a9e", "#d98bd2"]}, "legend": null}
}
},
{"width": 10, "height": 10, "view": {"stroke": null}, "data": {"values": [{}]}, "mark": {"type": "rect", "opacity": 0}, "encoding": {}},
{
"width": 469, "height": 126,
"title": {"text": "г", "dx": 18, "offset": -8},
"data": {"name": "d"},
"mark": {"type": "line", "interpolate": "monotone", "strokeWidth": 1.6},
"encoding": {
"x": {"field": "pk", "type": "quantitative", "scale": {"domain": [0, 178], "nice": false, "zero": false}, "axis": {"values": [0,10,20,30,40,50,60,70,80,90,100,110,120,130,140,150,160,170], "title": "п и к е т", "titleX": 466}},
"y": {"field": "mv", "type": "quantitative", "scale": {"domain": [0, 40], "nice": false}, "axis": {"values": [0,5,10,15,20,25,30,35,40], "title": "мВ", "titleX": -10}},
"color": {"field": "s", "type": "nominal", "scale": {"domain": ["верт. ком.", "гор. ком."], "range": ["#3d4a9e", "#d98bd2"]}, "legend": null}
}
},
{
"width": 470, "height": 49,
"view": {"stroke": null},
"data": {"name": "dbars"},
"encoding": {
"x": {"field": "x0", "type": "quantitative", "scale": {"domain": [0, 178], "nice": false, "zero": false}, "axis": null},
"x2": {"field": "x1"},
"y": {"field": "layer", "type": "nominal", "scale": {"domain": ["geo", "water"], "paddingInner": 0.1, "paddingOuter": 0}, "axis": null}
},
"layer": [
{"transform": [{"filter": "datum.layer === 'geo'"}], "mark": {"type": "rect", "strokeWidth": 1},
 "encoding": {
 "fill": {"field": "v", "type": "quantitative", "scale": {"domain": [0, 0.3, 0.5, 0.75, 1], "range": ["#f4f0b0", "#f5e86a", "#f6d62c", "#f09a2e", "#e3482b"]}, "legend": null},
 "stroke": {"field": "v", "type": "quantitative", "scale": {"domain": [0, 0.3, 0.5, 0.75, 1], "range": ["#f4f0b0", "#f5e86a", "#f6d62c", "#f09a2e", "#e3482b"]}, "legend": null}}},
{"transform": [{"filter": "datum.layer === 'water'"}], "mark": {"type": "rect", "strokeWidth": 1},
 "encoding": {
 "fill": {"field": "v", "type": "quantitative", "scale": {"domain": [0, 0.3, 0.56, 0.8, 1], "range": ["#d8e8ef", "#a6d8e6", "#4cbcdc", "#4470c4", "#3040a0"]}, "legend": null},
 "stroke": {"field": "v", "type": "quantitative", "scale": {"domain": [0, 0.3, 0.56, 0.8, 1], "range": ["#d8e8ef", "#a6d8e6", "#4cbcdc", "#4470c4", "#3040a0"]}, "legend": null}}}
],
"resolve": {"scale": {"fill": "independent", "stroke": "independent"}}
},
{
"width": 480, "height": 28,
"view": {"stroke": null},
"data": {"name": "legend"},
"mark": {"type": "rule", "strokeWidth": 2},
"encoding": {
"y": {"field": "s", "type": "nominal", "scale": {"domain": ["верт. ком.", "гор. ком."]}, "axis": {"orient": "right", "grid": false, "labelPadding": 7, "labelFontSize": 11, "labelColor": "#555", "labelFont": "Open Sans", "title": null}},
"x": {"datum": 0.823, "type": "quantitative", "scale": {"domain": [0, 1], "nice": false}, "axis": null},
"x2": {"datum": 1},
"color": {"field": "s", "type": "nominal", "scale": {"domain": ["верт. ком.", "гор. ком."], "range": ["#3d4a9e", "#c76bbf"]}, "legend": null}
}
}
]
},
{
"bounds": "flush",
"spacing": 88,
"vconcat": [
{
"width": 54, "height": 332,
"view": {"stroke": null},
"data": {"values": [{}]},
"layer": [
{"mark": {"type": "text", "angle": 90, "fontSize": 19, "font": "Open Sans", "color": "#4a4a4a"},
 "encoding": {"x": {"datum": 0.39, "type": "quantitative", "scale": {"domain": [0, 1]}, "axis": null}, "y": {"datum": 0.43, "type": "quantitative", "scale": {"domain": [0, 1]}, "axis": null}, "text": {"value": "Геодинамическая активность"}}},
{"mark": {"type": "rule", "color": "#333", "strokeWidth": 1.2},
 "encoding": {"x": {"datum": 0.76, "type": "quantitative", "scale": {"domain": [0, 1]}, "axis": null}, "y": {"datum": 0.566, "type": "quantitative", "scale": {"domain": [0, 1]}, "axis": null}, "y2": {"datum": 0.93}}},
{"mark": {"type": "point", "shape": "triangle-up", "filled": true, "color": "#222", "size": 45, "opacity": 1},
 "encoding": {"x": {"datum": 0.76, "type": "quantitative", "scale": {"domain": [0, 1]}, "axis": null}, "y": {"datum": 0.94, "type": "quantitative", "scale": {"domain": [0, 1]}, "axis": null}}}
]
},
{
"width": 54, "height": 330,
"view": {"stroke": null},
"data": {"values": [{}]},
"layer": [
{"mark": {"type": "text", "angle": 90, "fontSize": 19, "font": "Open Sans", "color": "#4a4a4a"},
 "encoding": {"x": {"datum": 0.39, "type": "quantitative", "scale": {"domain": [0, 1]}, "axis": null}, "y": {"datum": 0.45, "type": "quantitative", "scale": {"domain": [0, 1]}, "axis": null}, "text": {"value": "Показатель обводненности"}}},
{"mark": {"type": "rule", "color": "#333", "strokeWidth": 1.2},
 "encoding": {"x": {"datum": 0.76, "type": "quantitative", "scale": {"domain": [0, 1]}, "axis": null}, "y": {"datum": 0.545, "type": "quantitative", "scale": {"domain": [0, 1]}, "axis": null}, "y2": {"datum": 0.915}}},
{"mark": {"type": "point", "shape": "triangle-up", "filled": true, "color": "#222", "size": 45, "opacity": 1},
 "encoding": {"x": {"datum": 0.76, "type": "quantitative", "scale": {"domain": [0, 1]}, "axis": null}, "y": {"datum": 0.925, "type": "quantitative", "scale": {"domain": [0, 1]}, "axis": null}}}
]
}
]
},
{
"bounds": "flush",
"spacing": 88,
"resolve": {"scale": {"fill": "independent", "stroke": "independent"}},
"vconcat": [
{
"width": 28, "height": 332,
"view": {"stroke": "#6a5a4a", "strokeWidth": 1},
"data": {"name": "gradcells"},
"mark": {"type": "rect", "strokeWidth": 1},
"encoding": {
"x": {"field": "v", "type": "quantitative", "scale": {"domain": [0.2, 1], "nice": false, "zero": false}, "axis": null},
"x2": {"field": "v2"},
"fill": {"field": "v", "type": "quantitative", "scale": {"domain": [0, 0.3, 0.5, 0.75, 1], "range": ["#f4f0b0", "#f5e86a", "#f6d62c", "#f09a2e", "#e3482b"]}, "legend": null},
"stroke": {"field": "v", "type": "quantitative", "scale": {"domain": [0, 0.3, 0.5, 0.75, 1], "range": ["#f4f0b0", "#f5e86a", "#f6d62c", "#f09a2e", "#e3482b"]}, "legend": null}
}
},
{
"width": 28, "height": 330,
"view": {"stroke": "#4a4a6a", "strokeWidth": 1},
"data": {"name": "gradcells"},
"mark": {"type": "rect", "strokeWidth": 1},
"encoding": {
"x": {"field": "v", "type": "quantitative", "scale": {"domain": [0.2, 1], "nice": false, "zero": false}, "axis": null},
"x2": {"field": "v2"},
"fill": {"field": "v", "type": "quantitative", "scale": {"domain": [0, 0.3, 0.56, 0.8, 1], "range": ["#d8e8ef", "#a6d8e6", "#4cbcdc", "#4470c4", "#3040a0"]}, "legend": null},
"stroke": {"field": "v", "type": "quantitative", "scale": {"domain": [0, 0.3, 0.56, 0.8, 1], "range": ["#d8e8ef", "#a6d8e6", "#4cbcdc", "#4470c4", "#3040a0"]}, "legend": null}
}
}
]
}
],
"config": {
"view": {"stroke": "#1e1e1e", "strokeWidth": 1.5},
"font": "Liberation Sans",
"axis": {"ticks": false, "domain": false, "labelColor": "#9a9a9a", "labelFont": "Liberation Sans", "titleFont": "Liberation Sans", "titleFontWeight": "normal", "titleColor": "#8a8a8a", "titleFontSize": 7},
"axisY": {"grid": true, "gridColor": "#1e1e1e", "gridWidth": 1.4, "gridOpacity": 1, "labelFontSize": 8, "labelPadding": 4, "titleAngle": 0, "titleAlign": "left", "titleBaseline": "bottom", "titleY": -5},
"axisX": {"grid": false, "labelAngle": -90, "labelFontSize": 6.5, "labelPadding": 3, "labelColor": "#b0b0b0", "titleAlign": "right", "titleBaseline": "alphabetic", "titleY": -4, "titleFontSize": 6, "titleColor": "#9a9a9a"},
"title": {"font": "Liberation Sans", "fontSize": 19, "fontStyle": "italic", "fontWeight": "bold", "color": "#333", "anchor": "start", "frame": "group"}
}
}
